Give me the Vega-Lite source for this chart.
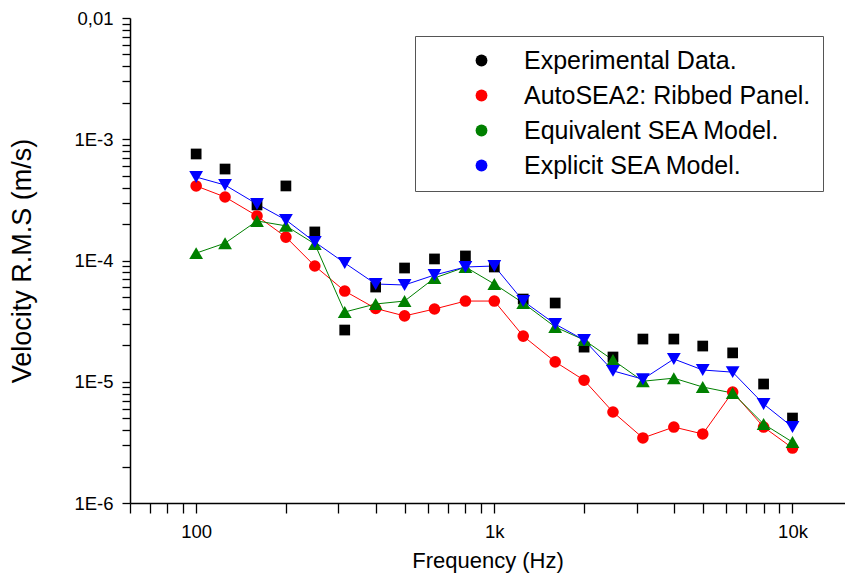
{
  "$schema": "https://vega.github.io/schema/vega-lite/v6.json",
  "width": 715,
  "height": 485,
  "autosize": {"type": "none"},
  "padding": {"left": 130, "top": 18, "right": 0, "bottom": 77},
  "background": "white",
  "config": {
    "view": {"stroke": null},
    "font": "Liberation Sans",
    "axis": {
      "grid": false,
      "domainColor": "black",
      "domainWidth": 1.5,
      "tickColor": "black",
      "tickWidth": 1.3,
      "labelColor": "black",
      "labelFont": "Liberation Sans",
      "labelFontSize": 18.5,
      "titleFont": "Liberation Sans",
      "titleFontWeight": "normal",
      "titleColor": "black",
      "labelOverlap": false,
      "labelFlush": false
    },
    "legend": {
      "orient": "none",
      "legendX": 285,
      "legendY": 18,
      "padding": 12,
      "rowPadding": 9,
      "strokeColor": "#555555",
      "fillColor": "white",
      "labelFont": "Liberation Sans",
      "labelFontSize": 25,
      "labelColor": "black",
      "labelLimit": 400,
      "symbolOffset": 42,
      "labelOffset": 30,
      "symbolSize": 140,
      "symbolStrokeWidth": 1,
      "title": null
    }
  },
  "data": {
    "values": [
      {"f": 100, "v": 7.56e-4, "s": "Experimental Data."},
      {"f": 125, "v": 5.68e-4, "s": "Experimental Data."},
      {"f": 160, "v": 2.87e-4, "s": "Experimental Data."},
      {"f": 200, "v": 4.12e-4, "s": "Experimental Data."},
      {"f": 250, "v": 1.72e-4, "s": "Experimental Data."},
      {"f": 315, "v": 2.67e-5, "s": "Experimental Data."},
      {"f": 400, "v": 6.04e-5, "s": "Experimental Data."},
      {"f": 500, "v": 8.67e-5, "s": "Experimental Data."},
      {"f": 630, "v": 1.03e-4, "s": "Experimental Data."},
      {"f": 800, "v": 1.09e-4, "s": "Experimental Data."},
      {"f": 1000, "v": 8.84e-5, "s": "Experimental Data."},
      {"f": 1250, "v": 4.81e-5, "s": "Experimental Data."},
      {"f": 1600, "v": 4.46e-5, "s": "Experimental Data."},
      {"f": 2000, "v": 1.93e-5, "s": "Experimental Data."},
      {"f": 2500, "v": 1.60e-5, "s": "Experimental Data."},
      {"f": 3150, "v": 2.25e-5, "s": "Experimental Data."},
      {"f": 4000, "v": 2.25e-5, "s": "Experimental Data."},
      {"f": 5000, "v": 1.97e-5, "s": "Experimental Data."},
      {"f": 6300, "v": 1.73e-5, "s": "Experimental Data."},
      {"f": 8000, "v": 9.58e-6, "s": "Experimental Data."},
      {"f": 10000, "v": 5.02e-6, "s": "Experimental Data."},
      {"f": 100, "v": 4.12e-4, "s": "AutoSEA2: Ribbed Panel."},
      {"f": 125, "v": 3.34e-4, "s": "AutoSEA2: Ribbed Panel."},
      {"f": 160, "v": 2.33e-4, "s": "AutoSEA2: Ribbed Panel."},
      {"f": 200, "v": 1.56e-4, "s": "AutoSEA2: Ribbed Panel."},
      {"f": 250, "v": 9.01e-5, "s": "AutoSEA2: Ribbed Panel."},
      {"f": 315, "v": 5.60e-5, "s": "AutoSEA2: Ribbed Panel."},
      {"f": 400, "v": 4.02e-5, "s": "AutoSEA2: Ribbed Panel."},
      {"f": 500, "v": 3.49e-5, "s": "AutoSEA2: Ribbed Panel."},
      {"f": 630, "v": 3.98e-5, "s": "AutoSEA2: Ribbed Panel."},
      {"f": 800, "v": 4.63e-5, "s": "AutoSEA2: Ribbed Panel."},
      {"f": 1000, "v": 4.63e-5, "s": "AutoSEA2: Ribbed Panel."},
      {"f": 1250, "v": 2.38e-5, "s": "AutoSEA2: Ribbed Panel."},
      {"f": 1600, "v": 1.46e-5, "s": "AutoSEA2: Ribbed Panel."},
      {"f": 2000, "v": 1.03e-5, "s": "AutoSEA2: Ribbed Panel."},
      {"f": 2500, "v": 5.63e-6, "s": "AutoSEA2: Ribbed Panel."},
      {"f": 3150, "v": 3.44e-6, "s": "AutoSEA2: Ribbed Panel."},
      {"f": 4000, "v": 4.23e-6, "s": "AutoSEA2: Ribbed Panel."},
      {"f": 5000, "v": 3.71e-6, "s": "AutoSEA2: Ribbed Panel."},
      {"f": 6300, "v": 8.23e-6, "s": "AutoSEA2: Ribbed Panel."},
      {"f": 8000, "v": 4.23e-6, "s": "AutoSEA2: Ribbed Panel."},
      {"f": 10000, "v": 2.84e-6, "s": "AutoSEA2: Ribbed Panel."},
      {"f": 100, "v": 1.15e-4, "s": "Equivalent SEA Model."},
      {"f": 125, "v": 1.39e-4, "s": "Equivalent SEA Model."},
      {"f": 160, "v": 2.12e-4, "s": "Equivalent SEA Model."},
      {"f": 200, "v": 1.93e-4, "s": "Equivalent SEA Model."},
      {"f": 250, "v": 1.37e-4, "s": "Equivalent SEA Model."},
      {"f": 315, "v": 3.76e-5, "s": "Equivalent SEA Model."},
      {"f": 400, "v": 4.38e-5, "s": "Equivalent SEA Model."},
      {"f": 500, "v": 4.63e-5, "s": "Equivalent SEA Model."},
      {"f": 630, "v": 7.17e-5, "s": "Equivalent SEA Model."},
      {"f": 800, "v": 8.84e-5, "s": "Equivalent SEA Model."},
      {"f": 1000, "v": 6.40e-5, "s": "Equivalent SEA Model."},
      {"f": 1250, "v": 4.46e-5, "s": "Equivalent SEA Model."},
      {"f": 1600, "v": 2.83e-5, "s": "Equivalent SEA Model."},
      {"f": 2000, "v": 2.21e-5, "s": "Equivalent SEA Model."},
      {"f": 2500, "v": 1.51e-5, "s": "Equivalent SEA Model."},
      {"f": 3150, "v": 1.01e-5, "s": "Equivalent SEA Model."},
      {"f": 4000, "v": 1.07e-5, "s": "Equivalent SEA Model."},
      {"f": 5000, "v": 9.05e-6, "s": "Equivalent SEA Model."},
      {"f": 6300, "v": 8.07e-6, "s": "Equivalent SEA Model."},
      {"f": 8000, "v": 4.48e-6, "s": "Equivalent SEA Model."},
      {"f": 10000, "v": 3.18e-6, "s": "Equivalent SEA Model."},
      {"f": 100, "v": 4.88e-4, "s": "Explicit SEA Model."},
      {"f": 125, "v": 4.19e-4, "s": "Explicit SEA Model."},
      {"f": 160, "v": 2.92e-4, "s": "Explicit SEA Model."},
      {"f": 200, "v": 2.16e-4, "s": "Explicit SEA Model."},
      {"f": 250, "v": 1.42e-4, "s": "Explicit SEA Model."},
      {"f": 315, "v": 9.54e-5, "s": "Explicit SEA Model."},
      {"f": 400, "v": 6.40e-5, "s": "Explicit SEA Model."},
      {"f": 500, "v": 6.28e-5, "s": "Explicit SEA Model."},
      {"f": 630, "v": 7.59e-5, "s": "Explicit SEA Model."},
      {"f": 800, "v": 8.84e-5, "s": "Explicit SEA Model."},
      {"f": 1000, "v": 9.01e-5, "s": "Explicit SEA Model."},
      {"f": 1250, "v": 4.63e-5, "s": "Explicit SEA Model."},
      {"f": 1600, "v": 2.99e-5, "s": "Explicit SEA Model."},
      {"f": 2000, "v": 2.21e-5, "s": "Explicit SEA Model."},
      {"f": 2500, "v": 1.23e-5, "s": "Explicit SEA Model."},
      {"f": 3150, "v": 1.05e-5, "s": "Explicit SEA Model."},
      {"f": 4000, "v": 1.54e-5, "s": "Explicit SEA Model."},
      {"f": 5000, "v": 1.25e-5, "s": "Explicit SEA Model."},
      {"f": 6300, "v": 1.20e-5, "s": "Explicit SEA Model."},
      {"f": 8000, "v": 6.55e-6, "s": "Explicit SEA Model."},
      {"f": 10000, "v": 4.23e-6, "s": "Explicit SEA Model."}
    ]
  },
  "encoding": {
    "x": {
      "field": "f",
      "type": "quantitative",
      "scale": {"type": "log", "domain": [60, 15000], "nice": false},
      "axis": {
        "title": "Frequency (Hz)",
        "titleFontSize": 22,
        "titlePadding": 10,
        "tickSize": 10,
        "labelPadding": 9,
        "values": [60, 70, 80, 90, 100, 200, 300, 400, 500, 600, 700, 800, 900, 1000, 2000, 3000, 4000, 5000, 6000, 7000, 8000, 9000, 10000],
        "labelExpr": "datum.value == 100 ? '100' : datum.value == 1000 ? '1k' : datum.value == 10000 ? '10k' : ''",
        "encode": {
          "ticks": {"update": {"y2": {"signal": "(datum.value == 100 || datum.value == 1000 || datum.value == 10000) ? 10 : 5"}}}
        }
      }
    },
    "y": {
      "field": "v",
      "type": "quantitative",
      "scale": {"type": "log", "domain": [1e-6, 0.01], "nice": false},
      "axis": {
        "title": "Velocity R.M.S (m/s)",
        "titleFontSize": 27,
        "titlePadding": 37,
        "tickSize": 8,
        "labelPadding": 9,
        "values": [1e-6, 2e-6, 3e-6, 4e-6, 5e-6, 6e-6, 7e-6, 8e-6, 9e-6, 1e-5, 2e-5, 3e-5, 4e-5, 5e-5, 6e-5, 7e-5, 8e-5, 9e-5, 1e-4, 2e-4, 3e-4, 4e-4, 5e-4, 6e-4, 7e-4, 8e-4, 9e-4, 1e-3, 2e-3, 3e-3, 4e-3, 5e-3, 6e-3, 7e-3, 8e-3, 9e-3, 1e-2],
        "labelExpr": "abs(log(datum.value)/LN10 - round(log(datum.value)/LN10)) < 0.001 ? (datum.value > 0.005 ? '0,01' : '1E-' + round(-log(datum.value)/LN10)) : ''",
        "encode": {
          "ticks": {"update": {"x2": {"signal": "abs(log(datum.value)/LN10 - round(log(datum.value)/LN10)) < 0.001 ? -8 : -4"}}}
        }
      }
    }
  },
  "layer": [
    {
      "transform": [{"filter": "datum.s != 'Experimental Data.'"}],
      "mark": {"type": "line", "strokeWidth": 1},
      "encoding": {
        "stroke": {
          "field": "s",
          "type": "nominal",
          "scale": {
            "domain": ["AutoSEA2: Ribbed Panel.", "Equivalent SEA Model.", "Explicit SEA Model."],
            "range": ["#ff0000", "#008000", "#0000ff"]
          },
          "legend": null
        }
      }
    },
    {
      "encoding": {
        "color": {
          "field": "s",
          "type": "nominal",
          "scale": {
            "domain": ["Experimental Data.", "AutoSEA2: Ribbed Panel.", "Equivalent SEA Model.", "Explicit SEA Model."],
            "range": ["#000000", "#ff0000", "#008000", "#0000ff"]
          },
          "legend": {
            "encode": {
              "symbols": {
                "shape": {
                  "condition": [
                    {"test": "datum.value === 'Experimental Data.'", "value": "M-0.9,-0.9H0.9V0.9H-0.9Z"},
                    {"test": "datum.value === 'AutoSEA2: Ribbed Panel.'", "value": "M-5.75,0H5.75M1,0A1,1,0,1,1,-1,0A1,1,0,1,1,1,0Z"},
                    {"test": "datum.value === 'Equivalent SEA Model.'", "value": "M-5.75,0H5.75M0,-1L1.16,1L-1.16,1Z"}
                  ],
                  "value": "M-5.75,0H5.75M0,1L1.16,-1L-1.16,-1Z"
                },
                "stroke": {
                  "condition": [
                    {"test": "datum.value === 'Experimental Data.'", "value": "#000000"},
                    {"test": "datum.value === 'AutoSEA2: Ribbed Panel.'", "value": "#ff0000"},
                    {"test": "datum.value === 'Equivalent SEA Model.'", "value": "#008000"}
                  ],
                  "value": "#0000ff"
                },
                "strokeWidth": {"value": 1}
              }
            }
          }
        }
      },
      "layer": [
        {
          "transform": [{"filter": "datum.s == 'Experimental Data.'"}],
          "mark": {"type": "point", "filled": true, "opacity": 1, "shape": "square", "size": 115}
        },
        {
          "transform": [{"filter": "datum.s == 'AutoSEA2: Ribbed Panel.'"}],
          "mark": {"type": "point", "filled": true, "opacity": 1, "shape": "circle", "size": 135}
        },
        {
          "transform": [{"filter": "datum.s == 'Equivalent SEA Model.'"}],
          "mark": {"type": "point", "filled": true, "opacity": 1, "shape": "triangle-up", "size": 190}
        },
        {
          "transform": [{"filter": "datum.s == 'Explicit SEA Model.'"}],
          "mark": {"type": "point", "filled": true, "opacity": 1, "shape": "triangle-down", "size": 190}
        }
      ]
    }
  ]
}
